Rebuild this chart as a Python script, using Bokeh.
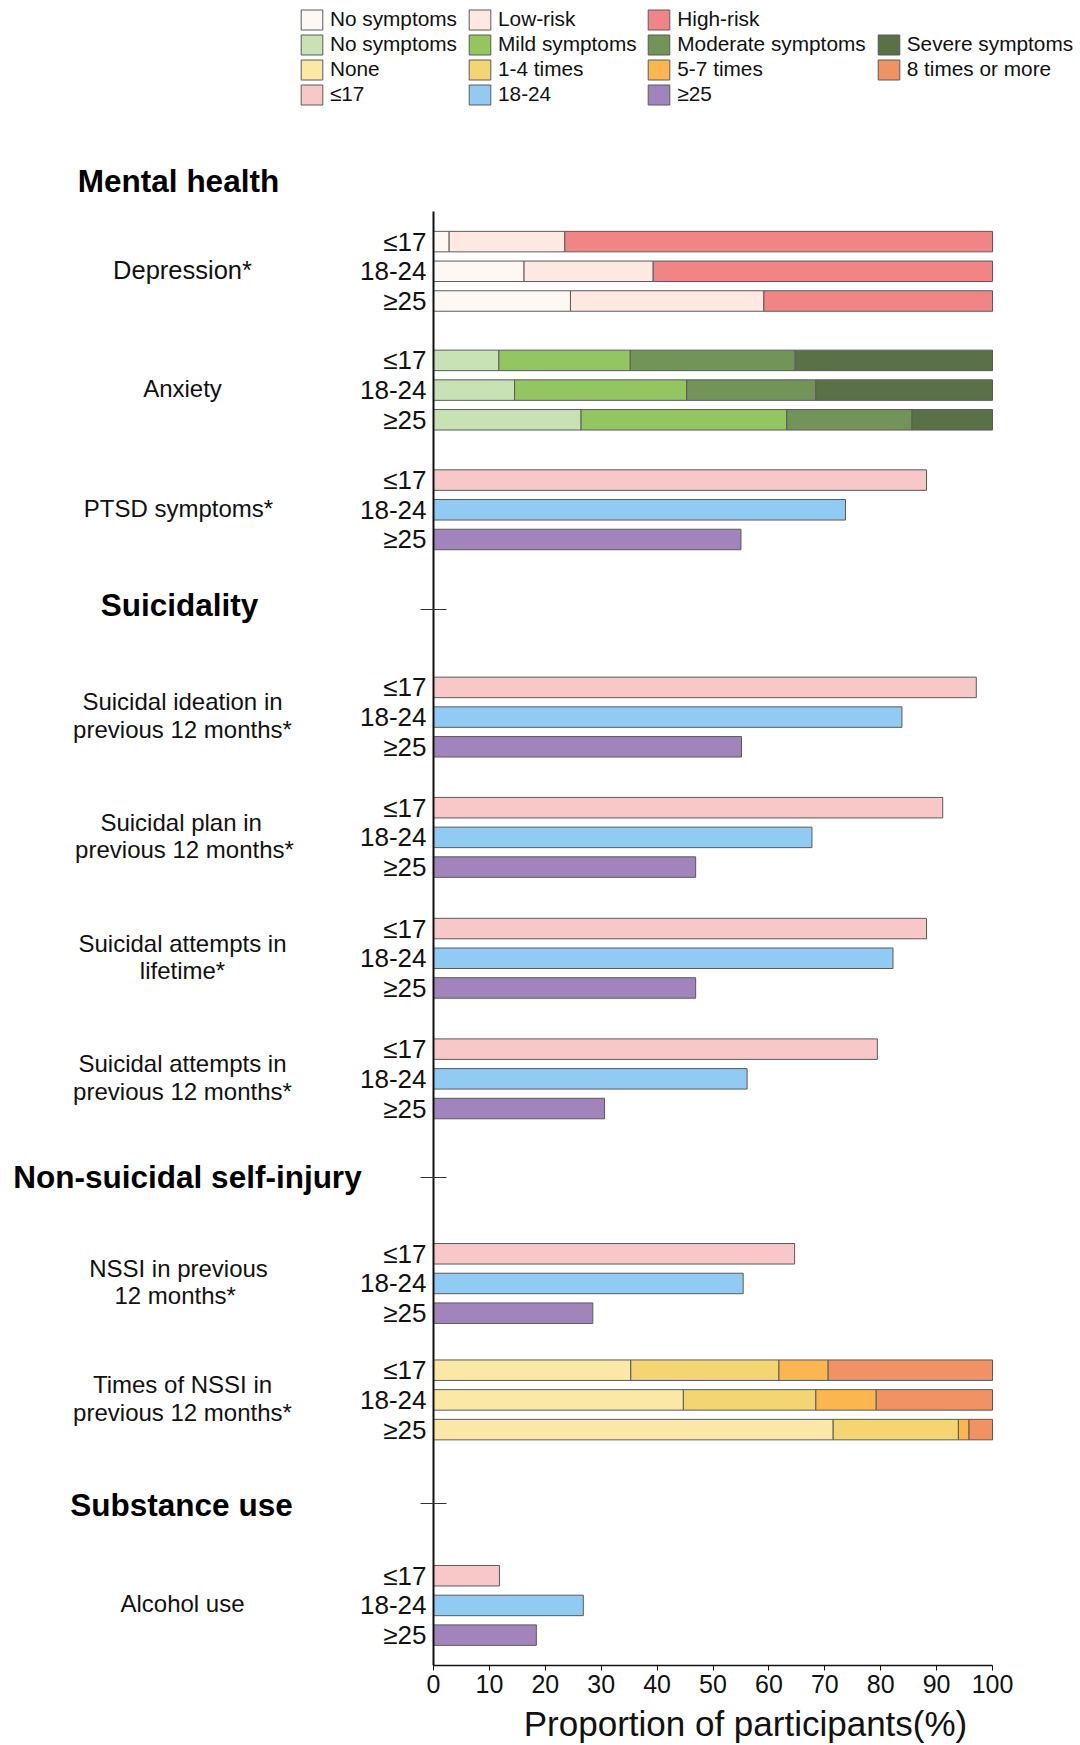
from bokeh.plotting import figure
from bokeh.models import (Range1d, LinearAxis, FixedTicker, Legend, LegendItem,
                          ColumnDataSource, CustomJSTickFormatter)
from bokeh.core.properties import value
from bokeh.embed import file_html
from bokeh.resources import INLINE

# ---------------- data ----------------
ages = ["≤17", "18-24", "≥25"]

# Depression (stacked, % of participants per age group)
dep_levels = ["No symptoms", "Low-risk", "High-risk"]
dep_no_symptoms = [2.8, 16.2, 24.5]
dep_low_risk = [20.7, 23.1, 34.6]
dep_high_risk = [76.5, 60.7, 40.9]

# Anxiety (stacked)
anx_levels = ["No symptoms", "Mild symptoms", "Moderate symptoms", "Severe symptoms"]
anx_no_symptoms = [11.7, 14.5, 26.4]
anx_mild = [23.5, 30.8, 36.8]
anx_moderate = [29.5, 23.1, 22.4]
anx_severe = [35.3, 31.6, 14.4]

# Times of NSSI in previous 12 months (stacked)
nssi_levels = ["None", "1-4 times", "5-7 times", "8 times or more"]
nssi_none = [35.3, 44.7, 71.5]
nssi_1_4 = [26.5, 23.7, 22.4]
nssi_5_7 = [8.8, 10.8, 1.9]
nssi_8_plus = [29.4, 20.8, 4.2]

# Single-proportion measures
measures = ["PTSD symptoms*",
            "Suicidal ideation in\nprevious 12 months*",
            "Suicidal plan  in\nprevious 12 months*",
            "Suicidal attempts in\nlifetime*",
            "Suicidal attempts in\nprevious 12 months*",
            "NSSI in previous\n 12 months*",
            "Alcohol use"]
pct_le17 = [88.2, 97.1, 91.1, 88.2, 79.4, 64.6, 11.8]
pct_18_24 = [73.7, 83.8, 67.7, 82.2, 56.1, 55.4, 26.8]
pct_ge25 = [55.0, 55.1, 46.9, 46.9, 30.6, 28.5, 18.4]

sections = ["Mental health", "Suicidality", "Non-suicidal self-injury", "Substance use"]
x_ticks = [0, 10, 20, 30, 40, 50, 60, 70, 80, 90, 100]
x_title = "Proportion of participants(%)"

# ---------------- layout (rows, styles) ----------------
W, H = 1080, 1745
ROW_PX = 29.7
ROW0_PX = 241.1
X0_PX = 433.0
PX_PER_PCT = 5.59
BAR_H = 0.69
OUTLINE = "#5a5a5a"
FONT = "Liberation Sans"

dep_mid, anx_mid, times_mid = 1.0, 5.0, 39.0
simple_mids = [9.03, 16.01, 20.06, 24.13, 28.19, 35.08, 45.92]
section_rows = [-2.04, 12.24, 31.5, 42.53]
section_ticks = [12.39, 31.5, 42.48]
axis_top, axis_bottom = -1.01, 47.94

dep_colors = ["#FDF8F4", "#FDE9E2", "#F18586"]
anx_colors = ["#C9E2B5", "#93C661", "#739459", "#5A7046"]
nssi_colors = ["#FBE8A7", "#F4D574", "#FBB650", "#F09264"]
age_colors = ["#F8C8C9", "#91CBF3", "#A284BC"]


def px_x(px):
    return (px - X0_PX) / PX_PER_PCT


def px_y(px):
    return (px - ROW0_PX) / ROW_PX


p = figure(width=W, height=H,
           x_range=Range1d(px_x(0), px_x(W)),
           y_range=Range1d(px_y(H), px_y(0)),
           output_backend="svg", toolbar_location=None,
           x_axis_location=None, y_axis_location=None, min_border=0)
p.outline_line_color = None
p.grid.visible = False
p.background_fill_color = "white"


def stacked(mid, names, cols, colors):
    data = dict(y=[mid - 1, mid, mid + 1])
    for n, c in zip(names, cols):
        data[n] = c
    src = ColumnDataSource(data)
    return p.hbar_stack(names, y="y", height=BAR_H, fill_color=colors,
                        line_color=OUTLINE, line_width=1, source=src)


dep_r = stacked(dep_mid, dep_levels, [dep_no_symptoms, dep_low_risk, dep_high_risk], dep_colors)
anx_r = stacked(anx_mid, anx_levels, [anx_no_symptoms, anx_mild, anx_moderate, anx_severe], anx_colors)
nssi_r = stacked(times_mid, nssi_levels, [nssi_none, nssi_1_4, nssi_5_7, nssi_8_plus], nssi_colors)

age_r = []
for i, (vals, col) in enumerate(zip([pct_le17, pct_18_24, pct_ge25], age_colors)):
    src = ColumnDataSource(dict(y=[m + i - 1 for m in simple_mids], right=vals))
    age_r.append(p.hbar(y="y", left=0, right="right", height=BAR_H, fill_color=col,
                        line_color=OUTLINE, line_width=1, source=src))

# group labels
group_labels = ["Depression*", "Anxiety", measures[0], measures[1], measures[2],
                measures[3], measures[4], measures[5],
                "Times of NSSI in\nprevious 12 months*", measures[6]]
group_mids = [dep_mid, anx_mid, simple_mids[0], simple_mids[1], simple_mids[2],
              simple_mids[3], simple_mids[4], simple_mids[5], times_mid, simple_mids[6]]
group_x = [182, 182, 178, 182, 184, 182, 182, 178, 182, 182]
group_sizes = ["25.5px", "24px", "24px", "24px", "24px", "24px", "24px", "24px", "24px", "24px"]
p.text(x=[px_x(g) for g in group_x], y=[m - 0.05 for m in group_mids], text=group_labels,
       text_font=value(FONT), text_font_size=group_sizes, text_color="#111111",
       text_align="center", text_baseline="middle", text_line_height=1.02)

# age labels next to the axis
age_y, age_t = [], []
for m in group_mids:
    for i, a in enumerate(ages):
        age_y.append(m + i - 1)
        age_t.append(a)
p.text(x=[0] * len(age_y), y=age_y, text=age_t, x_offset=-7,
       text_font=value(FONT), text_font_size="26px", text_color="#111111",
       text_align="right", text_baseline="middle")

# section headings
sec_x = [px_x(178), px_x(179), px_x(187), px_x(181)]
p.text(x=sec_x, y=section_rows, text=sections, text_font=value(FONT),
       text_font_size="31.5px", text_font_style="bold", text_color="#000000",
       text_align="center", text_baseline="middle")

# axes
xaxis = LinearAxis(fixed_location=axis_bottom, bounds=(0, 100),
                   ticker=FixedTicker(ticks=x_ticks, minor_ticks=[]))
xaxis.axis_line_width = 1.5
xaxis.axis_line_color = "#111111"
xaxis.major_tick_in = 0
xaxis.major_tick_out = 5
xaxis.major_tick_line_color = "#111111"
xaxis.minor_tick_line_color = None
xaxis.major_label_standoff = 5
xaxis.major_label_text_font = FONT
xaxis.major_label_text_font_size = "25px"
xaxis.major_label_text_color = "#111111"
p.add_layout(xaxis, "below")

# x-axis title (centred as in the original, slightly right of the axis middle)
p.text(x=[px_x(745)], y=[px_y(1723)], text=[x_title], text_font=value(FONT),
       text_font_size="35px", text_color="#111111",
       text_align="center", text_baseline="middle")

yaxis = LinearAxis(fixed_location=0, bounds=(axis_top, axis_bottom),
                   ticker=FixedTicker(ticks=section_ticks, minor_ticks=[]),
                   formatter=CustomJSTickFormatter(code="return ''"))
yaxis.axis_line_width = 2
yaxis.axis_line_color = "#111111"
yaxis.major_tick_in = 13
yaxis.major_tick_out = 13
yaxis.major_tick_line_color = "#333333"
yaxis.major_tick_line_width = 1.2
yaxis.minor_tick_line_color = None
p.add_layout(yaxis, "left")

# legends (4 columns)
cols = [
    [(dep_r[0], dep_levels[0]), (anx_r[0], anx_levels[0]), (nssi_r[0], nssi_levels[0]), (age_r[0], ages[0])],
    [(dep_r[1], dep_levels[1]), (anx_r[1], anx_levels[1]), (nssi_r[1], nssi_levels[1]), (age_r[1], ages[1])],
    [(dep_r[2], dep_levels[2]), (anx_r[2], anx_levels[2]), (nssi_r[2], nssi_levels[2]), (age_r[2], ages[2])],
    [(anx_r[3], anx_levels[3]), (nssi_r[3], nssi_levels[3])],
]
leg_x = [297.9, 466.0, 645.3, 874.7]
leg_bottom = [106.6, 106.6, 106.6, 81.6]
for items, lx, lb in zip(cols, leg_x, leg_bottom):
    leg = Legend(items=[LegendItem(label=t, renderers=[r]) for r, t in items],
                 location=(lx, H - lb), orientation="vertical",
                 glyph_width=27, glyph_height=25, label_height=25, label_width=10,
                 label_standoff=5, spacing=0, padding=0, margin=0,
                 border_line_color=None, background_fill_alpha=0,
                 label_text_font=FONT, label_text_font_size="20.8px",
                 label_text_color="#111111")
    p.add_layout(leg)

open("out.html", "w").write(file_html(p, INLINE))
